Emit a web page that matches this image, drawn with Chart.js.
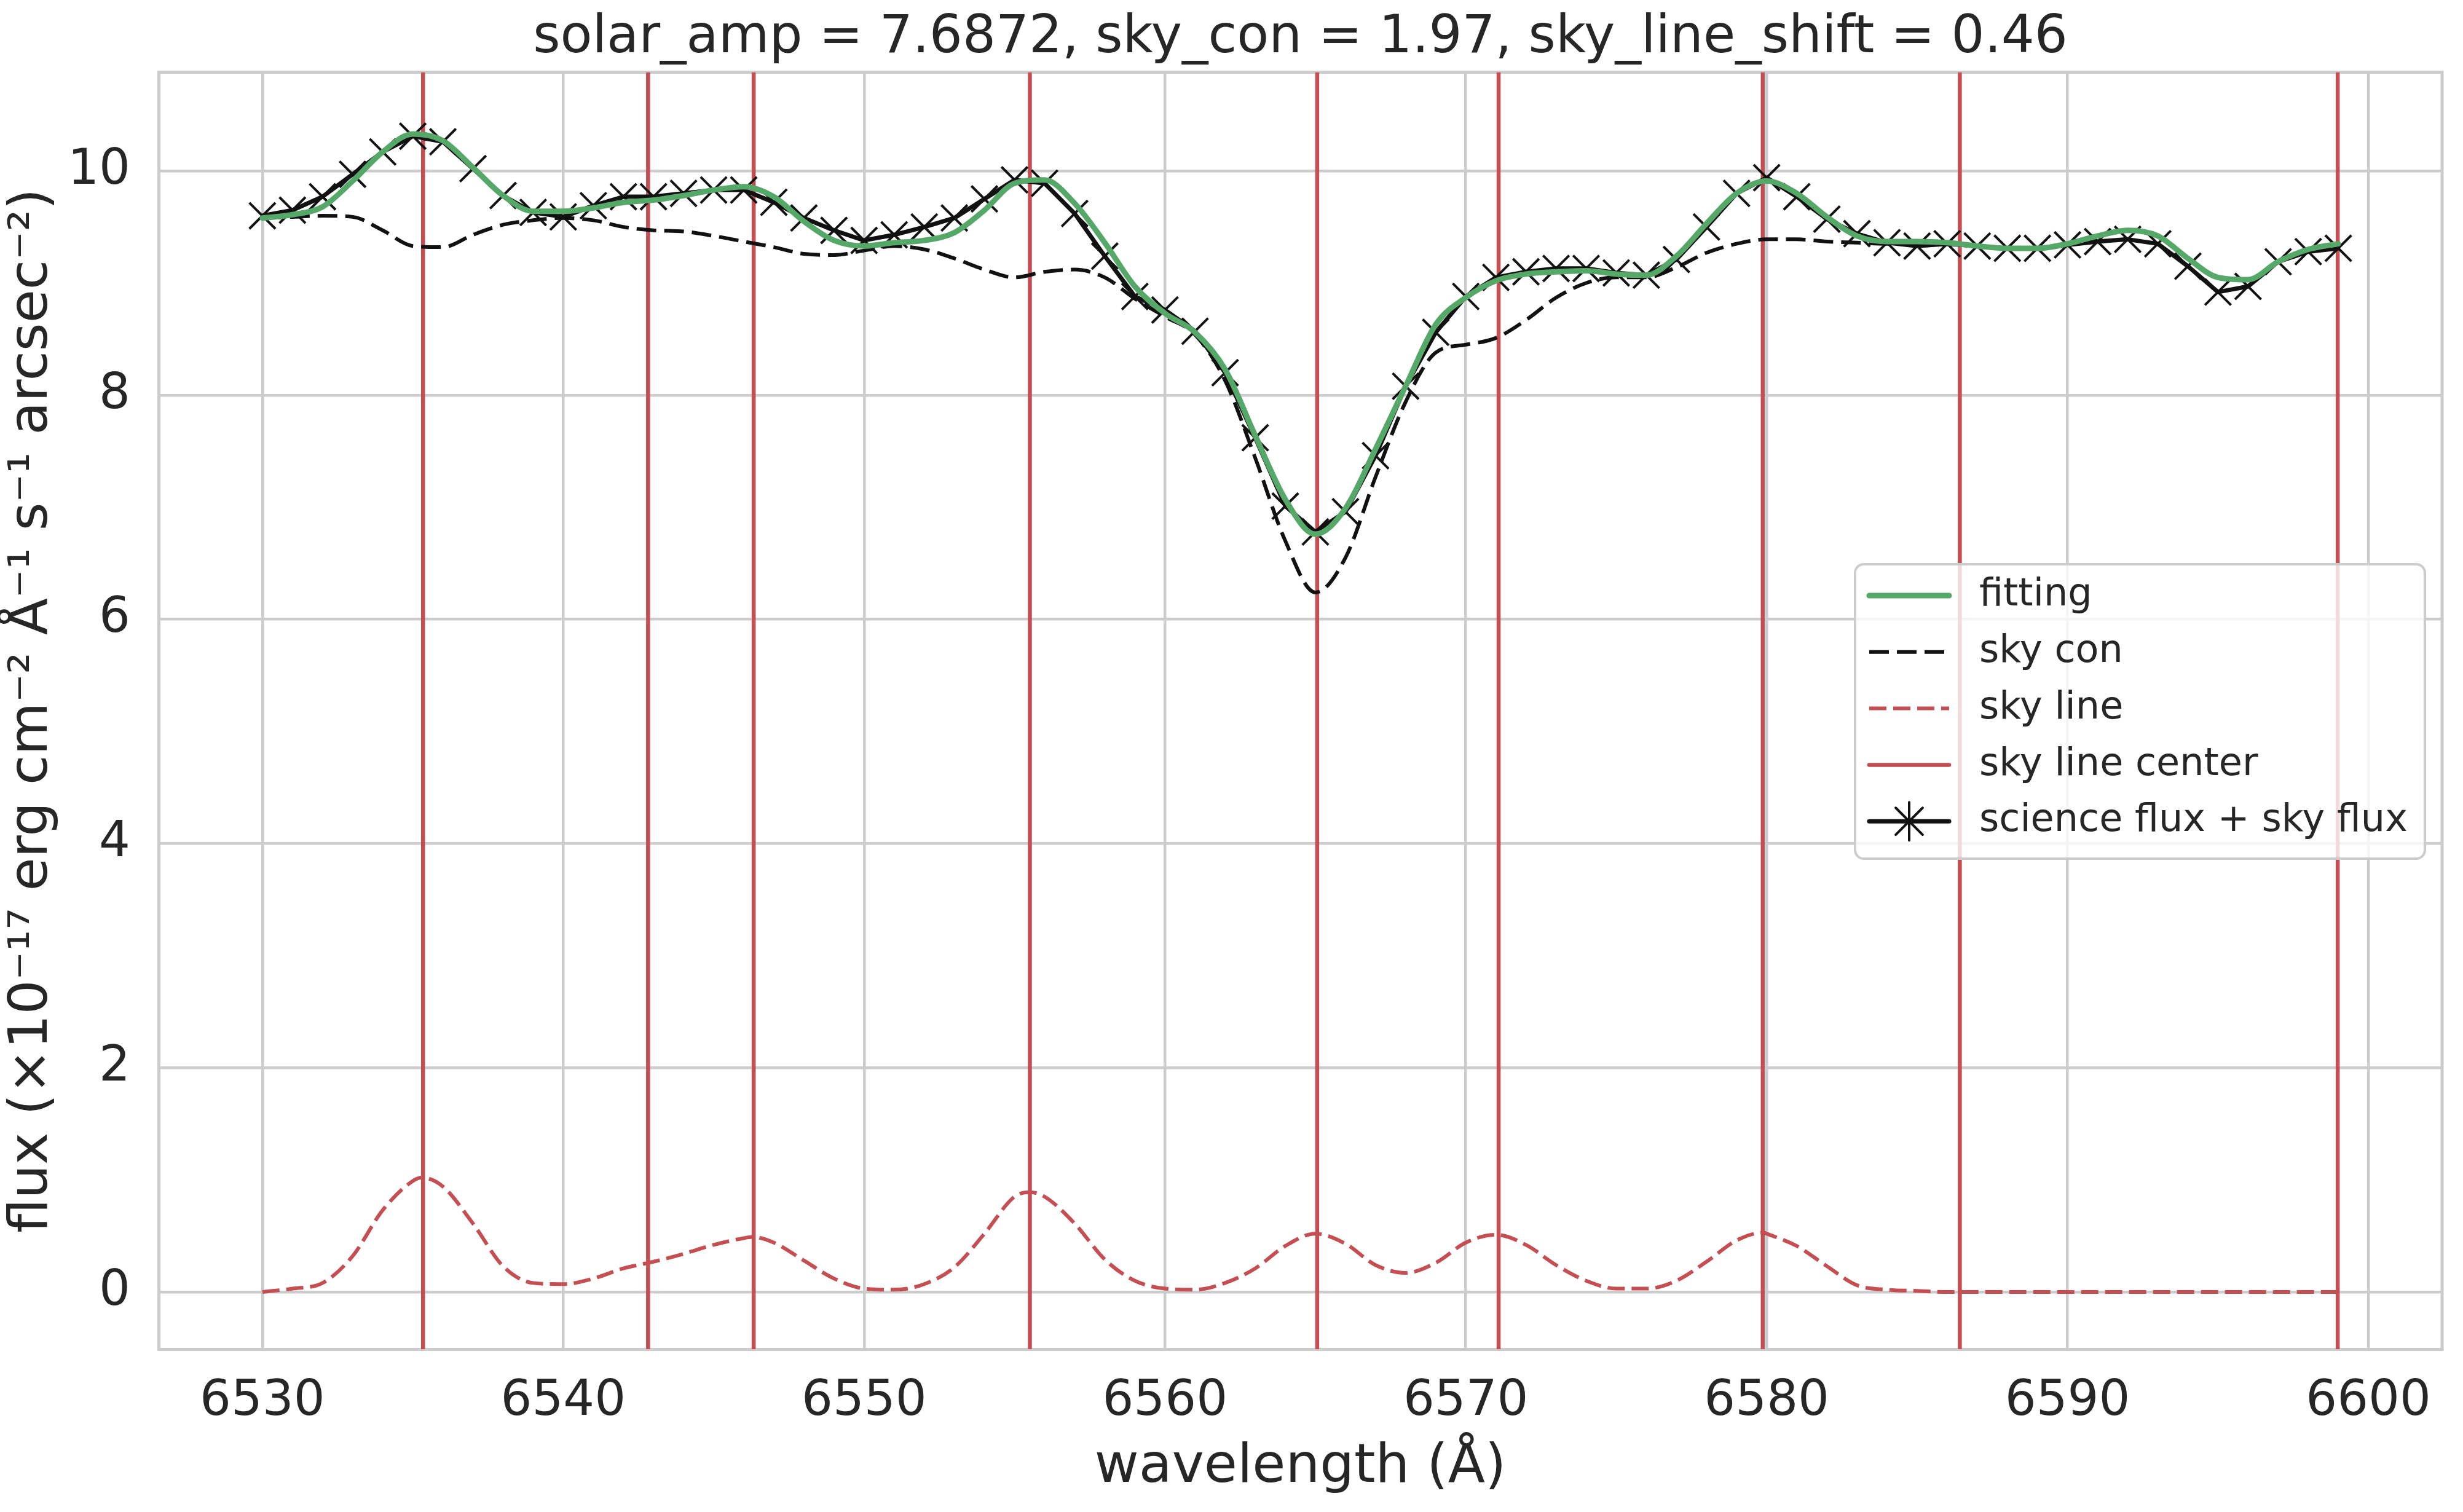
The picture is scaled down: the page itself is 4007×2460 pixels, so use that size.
<!DOCTYPE html>
<html lang="en">
<head>
<meta charset="UTF-8">
<title>Sky line fitting</title>
<script src="https://cdnjs.cloudflare.com/ajax/libs/Chart.js/4.4.1/chart.umd.min.js"></script>
<style>
    body { margin: 0; background: #ffffff; }
    #chart { display: block; }
</style>
</head>
<body>
<canvas id="chart" width="4007" height="2460"></canvas>
<script>
// wavelength grid of the spectrum (Å)
const wave = [6530, 6531, 6532, 6533, 6534, 6535, 6536, 6537, 6538, 6539,
              6540, 6541, 6542, 6543, 6544, 6545, 6546, 6547, 6548, 6549,
              6550, 6551, 6552, 6553, 6554, 6555, 6556, 6557, 6558, 6559,
              6560, 6561, 6562, 6563, 6564, 6565, 6566, 6567, 6568, 6569,
              6570, 6571, 6572, 6573, 6574, 6575, 6576, 6577, 6578, 6579,
              6580, 6581, 6582, 6583, 6584, 6585, 6586, 6587, 6588, 6589,
              6590, 6591, 6592, 6593, 6594, 6595, 6596, 6597, 6598, 6599];

// science flux + sky flux (black line with markers)
const scienceFlux = [9.60, 9.65, 9.77, 9.97, 10.17, 10.31, 10.26, 10.02, 9.78, 9.63,
                     9.59, 9.69, 9.77, 9.77, 9.80, 9.83, 9.83, 9.72, 9.58, 9.47,
                     9.38, 9.43, 9.50, 9.58, 9.75, 9.92, 9.89, 9.62, 9.24, 8.88,
                     8.76, 8.57, 8.20, 7.62, 7.01, 6.78, 6.96, 7.46, 8.08, 8.56,
                     8.88, 9.05, 9.10, 9.13, 9.13, 9.09, 9.07, 9.21, 9.50, 9.80,
                     9.94, 9.77, 9.57, 9.44, 9.36, 9.33, 9.35, 9.33, 9.31, 9.31,
                     9.34, 9.37, 9.39, 9.35, 9.15, 8.92, 8.97, 9.19, 9.28, 9.31];

// model fit (green)
const fitting = [9.58, 9.61, 9.68, 9.91, 10.17, 10.33, 10.27, 10.03, 9.78, 9.64,
                 9.64, 9.67, 9.72, 9.74, 9.78, 9.83, 9.86, 9.77, 9.55, 9.38,
                 9.33, 9.36, 9.38, 9.45, 9.65, 9.89, 9.92, 9.71, 9.36, 8.97,
                 8.73, 8.56, 8.23, 7.64, 7.07, 6.76, 6.99, 7.52, 8.08, 8.63,
                 8.87, 9.02, 9.08, 9.10, 9.11, 9.08, 9.07, 9.24, 9.53, 9.80,
                 9.91, 9.80, 9.59, 9.42, 9.37, 9.37, 9.36, 9.33, 9.31, 9.31,
                 9.35, 9.42, 9.47, 9.42, 9.22, 9.05, 9.03, 9.19, 9.30, 9.35];

// sky continuum (black dashed)
const skyCon = [9.58, 9.59, 9.60, 9.59, 9.47, 9.33, 9.32, 9.43, 9.52, 9.56,
                9.58, 9.56, 9.50, 9.47, 9.46, 9.42, 9.37, 9.32, 9.26, 9.25,
                9.29, 9.33, 9.30, 9.22, 9.12, 9.05, 9.10, 9.12, 9.05, 8.86,
                8.70, 8.54, 8.13, 7.44, 6.70, 6.24, 6.55, 7.27, 7.94, 8.38,
                8.45, 8.51, 8.67, 8.87, 9.00, 9.05, 9.05, 9.14, 9.27, 9.35,
                9.39, 9.39, 9.37, 9.36, 9.35, 9.36, 9.36, 9.33, 9.31, 9.31,
                9.35, 9.42, 9.47, 9.42, 9.22, 9.05, 9.03, 9.19, 9.30, 9.35];

// sky emission lines (red dashed), read with the peaks included
const skyLineWave = [6530, 6531, 6532, 6533, 6534, 6535, 6535.3, 6536, 6537, 6538,
                     6539, 6540, 6541, 6542, 6543, 6544, 6545, 6546, 6546.3, 6547,
                     6548, 6549, 6550, 6551, 6552, 6553, 6554, 6555, 6555.5, 6556,
                     6557, 6558, 6559, 6560, 6561, 6562, 6563, 6564, 6565, 6566,
                     6567, 6568, 6569, 6570, 6571, 6572, 6573, 6574, 6575, 6576,
                     6577, 6578, 6579, 6579.9, 6580, 6581, 6582, 6583, 6584, 6585,
                     6586, 6599];
const skyLine = [0.00, 0.03, 0.08, 0.32, 0.73, 0.99, 1.02, 0.94, 0.61, 0.23,
                 0.08, 0.07, 0.12, 0.21, 0.27, 0.34, 0.42, 0.48, 0.49, 0.44,
                 0.28, 0.12, 0.03, 0.02, 0.07, 0.22, 0.52, 0.85, 0.89, 0.85,
                 0.61, 0.29, 0.10, 0.03, 0.02, 0.08, 0.21, 0.41, 0.52, 0.43,
                 0.24, 0.17, 0.26, 0.44, 0.51, 0.42, 0.24, 0.10, 0.03, 0.03,
                 0.10, 0.27, 0.46, 0.53, 0.52, 0.41, 0.23, 0.06, 0.02, 0.01,
                 0.00, 0.00];

// sky line centers (red vertical lines)
const skyLineCenter = [6535.34, 6542.82, 6546.33, 6555.51, 6565.06, 6571.09, 6579.87, 6586.42, 6598.98];

const xRange = [6526.55, 6602.45];
const yRange = [-0.51, 10.88];

const GREEN = '#55a868';
const RED = '#c44e52';
const BLACK = '#111111';
const GRID = '#cccccc';
const TEXT = '#262626';

Chart.defaults.font.family = "'DejaVu Sans', sans-serif";
Chart.defaults.color = TEXT;

const pairs = (xs, ys) => xs.map((x, i) => ({x: x, y: ys[i]}));

// each center becomes a full-height segment, split by a null
const centerData = [];
skyLineCenter.forEach(c => {
    centerData.push({x: c, y: yRange[0]}, {x: c, y: yRange[1]}, {x: c, y: null});
});

// top and right spines
const frame = {
    id: 'frame',
    beforeDatasetsDraw(chart) {
        const {ctx, chartArea: a} = chart;
        ctx.save();
        ctx.strokeStyle = GRID;
        ctx.lineWidth = 5;
        ctx.beginPath();
        ctx.moveTo(a.left, a.top);
        ctx.lineTo(a.right, a.top);
        ctx.lineTo(a.right, a.bottom);
        ctx.stroke();
        ctx.restore();
    }
};

// legend box inside the plot, right side
const boxLegend = {
    id: 'boxLegend',
    afterDraw(chart) {
        const ctx = chart.ctx;
        const x0 = 3018, y0 = 918, w = 927, h = 479;
        ctx.save();
        ctx.beginPath();
        ctx.roundRect(x0, y0, w, h, 14);
        ctx.fillStyle = 'rgba(255,255,255,0.8)';
        ctx.fill();
        ctx.lineWidth = 4;
        ctx.strokeStyle = GRID;
        ctx.stroke();

        chart.data.datasets.forEach((ds, i) => {
            const y = y0 + 51 + i * 91.8;
            ctx.beginPath();
            ctx.setLineDash(ds.borderDash || []);
            ctx.lineCap = ds.borderDash ? 'butt' : 'round';
            ctx.lineWidth = ds.borderWidth;
            ctx.strokeStyle = ds.borderColor;
            ctx.moveTo(3041, y);
            ctx.lineTo(3171, y);
            ctx.stroke();
            ctx.setLineDash([]);
            if (ds.pointStyle === 'crossRot') {
                ctx.lineWidth = ds.pointBorderWidth;
                ctx.strokeStyle = ds.pointBorderColor;
                ctx.fillStyle = ds.pointBackgroundColor;
                Chart.helpers.drawPoint(ctx, {pointStyle: 'star', radius: 31, borderWidth: ds.pointBorderWidth}, 3106, y);
            }
            ctx.fillStyle = TEXT;
            ctx.font = "62px 'DejaVu Sans'";
            ctx.textAlign = 'left';
            ctx.textBaseline = 'middle';
            ctx.fillText(ds.label, 3220, y);
        });
        ctx.restore();
    }
};

new Chart(document.getElementById('chart'), {
    type: 'line',
    data: {
        datasets: [
            {
                label: 'fitting',
                data: pairs(wave, fitting),
                borderColor: GREEN,
                borderWidth: 9,
                pointRadius: 0,
                cubicInterpolationMode: 'monotone',
                borderCapStyle: 'round',
                borderJoinStyle: 'round',
                order: 1
            },
            {
                label: 'sky con',
                data: pairs(wave, skyCon),
                borderColor: BLACK,
                borderWidth: 6,
                borderDash: [32, 13],
                pointRadius: 0,
                cubicInterpolationMode: 'monotone',
                order: 3
            },
            {
                label: 'sky line',
                data: pairs(skyLineWave, skyLine),
                borderColor: RED,
                borderWidth: 6,
                borderDash: [28, 11],
                pointRadius: 0,
                cubicInterpolationMode: 'monotone',
                order: 4
            },
            {
                label: 'sky line center',
                data: centerData,
                borderColor: RED,
                borderWidth: 6.5,
                pointRadius: 0,
                tension: 0,
                spanGaps: false,
                order: 5
            },
            {
                label: 'science flux + sky flux',
                data: pairs(wave, scienceFlux),
                borderColor: BLACK,
                borderWidth: 7,
                tension: 0,
                borderJoinStyle: 'round',
                pointStyle: 'crossRot',
                pointRadius: 30,
                pointBorderWidth: 4,
                pointBorderColor: BLACK,
                pointBackgroundColor: BLACK,
                order: 2
            }
        ]
    },
    options: {
        responsive: false,
        animation: false,
        events: [],
        layout: { padding: { top: 0, right: 30, bottom: 0, left: 0 } },
        plugins: {
            legend: { display: false },
            tooltip: { enabled: false },
            title: {
                display: true,
                fullSize: false,
                text: 'solar_amp = 7.6872, sky_con = 1.97, sky_line_shift = 0.46',
                font: { size: 85, weight: 'normal' },
                color: TEXT,
                padding: { top: 12, bottom: 3.6 }
            }
        },
        scales: {
            x: {
                type: 'linear',
                min: xRange[0],
                max: xRange[1],
                afterFit: s => { s.height = 265; },
                grid: { color: GRID, lineWidth: 4.5, drawTicks: false },
                border: { display: true, color: GRID, width: 5 },
                ticks: {
                    stepSize: 10,
                    includeBounds: false,
                    autoSkip: false,
                    maxRotation: 0,
                    padding: 38,
                    font: { size: 80 },
                    color: TEXT,
                    callback: v => String(v)
                },
                title: {
                    display: true,
                    text: 'wavelength (Å)',
                    font: { size: 88 },
                    color: TEXT,
                    padding: { top: 0, bottom: 19 }
                }
            },
            y: {
                type: 'linear',
                min: yRange[0],
                max: yRange[1],
                afterFit: s => { s.width = 258; },
                grid: { color: GRID, lineWidth: 4.5, drawTicks: false },
                border: { display: true, color: GRID, width: 5 },
                ticks: {
                    stepSize: 2,
                    includeBounds: false,
                    padding: 46,
                    font: { size: 80 },
                    color: TEXT,
                    callback: v => String(v)
                },
                title: {
                    display: true,
                    text: 'flux (×10⁻¹⁷ erg cm⁻² Å⁻¹ s⁻¹ arcsec⁻²)',
                    font: { size: 88 },
                    color: TEXT,
                    padding: { top: 0, bottom: 0 }
                }
            }
        }
    },
    plugins: [frame, boxLegend]
});
</script>
</body>
</html>
